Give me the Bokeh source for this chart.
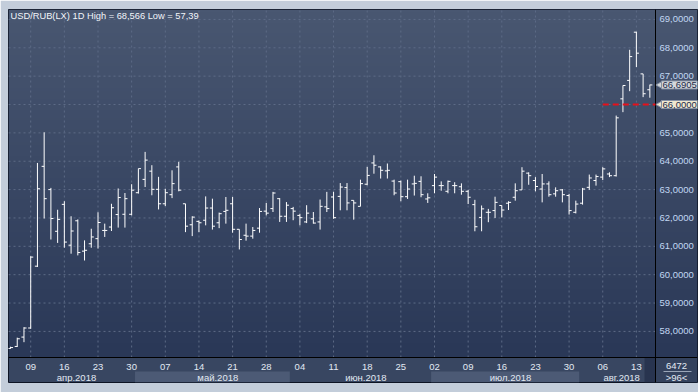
import numpy as np
import pandas as pd
from bokeh.plotting import figure
from bokeh.models import Range1d, Label, ColumnDataSource
from bokeh.core.properties import value
from bokeh.embed import file_html
from bokeh.resources import INLINE

# ---------------- data (USD/RUB daily OHLC, 04.04.2018 - 15.08.2018) ----------------
dates = pd.bdate_range("2018-04-04", "2018-08-15")
opens = [57.40, 57.47, 57.80, 58.12, 60.30, 63.82, 63.00, 61.53, 62.48, 61.04,
         61.90, 60.83, 61.09, 61.27, 61.56, 61.68, 62.12, 62.13, 62.13, 62.89,
         63.36, 63.65, 63.01, 62.50, 62.82, 63.80, 62.50, 61.76, 61.88, 61.92,
         62.35, 61.83, 62.23, 62.50, 61.60, 61.39, 61.36, 61.64, 62.24, 62.33,
         62.68, 62.06, 62.33, 62.09, 61.86, 61.97, 61.86, 62.39, 62.74, 62.76,
         63.07, 62.62, 62.41, 63.19, 63.94, 63.80, 63.66, 63.30, 63.28, 62.75,
         63.20, 63.29, 62.67, 63.14, 63.14, 62.94, 63.14, 63.10, 62.94, 62.47,
         62.02, 62.20, 62.26, 62.44, 62.52, 62.73, 62.99, 63.58, 63.32, 63.02,
         63.20, 62.85, 62.99, 62.79, 62.20, 62.52, 63.08, 63.32, 63.44, 63.55,
         63.49, 66.20, 66.85, 68.55, 67.08, 66.52]
highs = [57.46, 57.78, 58.15, 60.65, 63.94, 65.02, 63.06, 62.29, 62.59, 62.06,
         61.95, 61.21, 61.62, 62.20, 61.80, 62.50, 63.04, 62.88, 63.19, 63.74,
         64.33, 63.86, 63.45, 63.03, 63.68, 63.98, 62.50, 62.06, 61.91, 62.76,
         62.68, 62.19, 62.74, 62.74, 61.60, 61.80, 61.68, 62.35, 62.53, 62.92,
         62.70, 62.56, 62.39, 62.15, 62.45, 62.21, 62.65, 62.92, 62.92, 63.23,
         63.23, 62.62, 63.35, 63.80, 64.21, 63.82, 63.92, 63.35, 63.32, 63.35,
         63.49, 63.47, 62.87, 63.55, 63.29, 63.32, 63.26, 63.22, 62.99, 62.64,
         62.44, 62.32, 62.75, 62.44, 62.59, 63.22, 63.79, 63.61, 63.44, 63.55,
         63.29, 63.08, 63.02, 62.85, 62.61, 63.06, 63.53, 63.53, 63.79, 63.61,
         65.61, 66.67, 67.93, 68.566, 67.08, 66.70]
lows = [57.39, 57.45, 57.62, 58.09, 60.27, 61.98, 61.24, 61.12, 60.95, 60.74,
        60.68, 60.50, 60.95, 60.92, 61.33, 61.54, 61.66, 61.66, 62.09, 62.86,
        63.09, 62.80, 62.30, 62.42, 62.70, 62.94, 61.50, 61.36, 61.50, 61.74,
        61.59, 61.64, 61.80, 61.48, 60.89, 61.20, 61.27, 61.48, 62.09, 62.21,
        61.86, 61.86, 61.92, 61.74, 61.82, 61.80, 61.59, 62.21, 61.97, 62.27,
        62.27, 61.94, 62.41, 63.15, 63.56, 63.39, 63.39, 62.80, 62.59, 62.67,
        62.79, 62.73, 62.53, 62.87, 62.96, 62.87, 62.87, 62.82, 62.49, 61.53,
        61.53, 61.85, 62.00, 62.02, 62.28, 62.61, 62.99, 63.17, 62.94, 62.55,
        62.75, 62.75, 62.55, 62.12, 62.16, 62.47, 62.99, 63.14, 63.34, 63.44,
        63.46, 65.73, 66.47, 67.32, 66.26, 66.24]
closes = [57.43, 57.74, 58.12, 60.62, 63.03, 62.68, 61.98, 61.95, 61.15, 61.54,
          60.78, 60.86, 61.33, 61.84, 61.56, 62.36, 62.72, 62.68, 62.98, 63.74,
          64.04, 63.01, 62.50, 62.89, 63.21, 62.98, 61.71, 62.03, 61.83, 62.35,
          61.71, 62.15, 62.27, 61.60, 61.24, 61.36, 61.56, 62.23, 62.17, 62.88,
          62.06, 62.45, 62.24, 62.01, 62.17, 61.82, 62.41, 62.33, 62.01, 63.09,
          62.53, 62.53, 63.21, 63.50, 63.86, 63.68, 63.68, 62.88, 62.75, 63.02,
          63.22, 62.82, 62.71, 63.44, 63.14, 63.29, 63.14, 62.94, 62.73, 61.69,
          62.32, 62.20, 62.55, 62.28, 62.55, 62.96, 63.65, 63.49, 63.11, 63.20,
          62.82, 62.96, 62.82, 62.26, 62.49, 63.02, 63.41, 63.46, 63.73, 63.49,
          65.53, 66.67, 67.69, 67.81, 66.38, 66.69]
price_ticks = [58, 59, 60, 61, 62, 63, 64, 65, 66, 67, 68, 69]
day_labels = ["09", "16", "23", "30", "07", "14", "21", "28", "04", "11",
              "18", "25", "02", "09", "16", "23", "30", "06", "13"]
month_labels = ["апр.2018", "май.2018", "июн.2018", "июл.2018", "авг.2018"]
level_price = 66.0
last_price = 66.6905
title_text = "USD/RUB(LX) 1D High = 68,566 Low = 57,39"
corner_top = "6472"
corner_bottom = ">96<"

# ---------------- derived ----------------
n = len(opens)
xs = list(range(n))
monday_idx = [i for i, d in enumerate(dates) if d.weekday() == 0]
months = [d.month for d in dates]
month_groups = []
for m in sorted(set(months)):
    ids = [i for i, mm in enumerate(months) if mm == m]
    month_groups.append((ids[0], ids[-1]))

def fmt(v):
    return f"{v:.4f}".replace(".", ",")

# price area (data) and its pixel placement on the 698x392 canvas
X0, X1 = -0.3, n - 0.16
Y0, Y1 = 57.08, 69.35
PL, PR, PT, PB = 8, 655, 9, 357          # price-area box in canvas pixels
FR, FB = 697, 382                        # frame also covers the axis panels
PX = (PR - PL) / (X1 - X0)
PY = (PB - PT) / (Y1 - Y0)
def xpx(px):
    return X0 + (px - PL) / PX
def ypx(py):
    return Y1 - (py - PT) / PY
XE, YB = xpx(FR), ypx(FB)

FONT = "Liberation Sans"
LIGHT = "#c3cdda"
PANEL = "#384661"
BAND = "#4c5a75"
GRID = "#5d6b86"

p = figure(width=698, height=392, output_backend="svg", toolbar_location=None,
           x_range=Range1d(X0, XE), y_range=Range1d(YB, Y1),
           min_border_left=PL, min_border_top=PT, min_border_right=698 - FR,
           min_border_bottom=392 - FB,
           border_fill_color=LIGHT, outline_line_color="#0d1424",
           background_fill_color=PANEL, x_axis_location=None, y_axis_location=None)
p.xgrid.visible = False
p.ygrid.visible = False

# gradient background for price area + right scale panel
rows = 128
img = np.empty((rows, 1), dtype=np.uint32)
view = img.view(dtype=np.uint8).reshape((rows, 1, 4))
bot = np.array([42, 56, 87]); top = np.array([73, 87, 113])
for r in range(rows):
    t = r / (rows - 1)
    view[r, 0, :3] = (bot + (top - bot) * t).astype(np.uint8)
    view[r, 0, 3] = 255
p.image_rgba(image=[img], x=X0, y=Y0, dw=XE - X0, dh=Y1 - Y0, level="image")

# bottom date panel: month bands, dark tail, corner box
for k, (a, b) in enumerate(month_groups):
    if k % 2 == 1:
        p.quad(left=a - 0.5, right=b + 0.5, bottom=YB, top=ypx(371),
               fill_color=BAND, line_color=None)
p.quad(left=xpx(644), right=X1, bottom=YB, top=Y0, fill_color="#28344f", line_color=None)
p.quad(left=X1, right=XE, bottom=YB, top=Y0, fill_color="#34425d", line_color=None)

# grid lines (dashed) inside the price area
p.segment(x0=monday_idx, y0=[Y0] * len(monday_idx), x1=monday_idx, y1=[Y1] * len(monday_idx),
          line_color=GRID, line_dash="2 3", line_width=1)
p.segment(x0=[X0] * len(price_ticks), y0=price_ticks, x1=[X1] * len(price_ticks), y1=price_ticks,
          line_color=GRID, line_dash="2 3", line_width=1)

# separators
p.segment(x0=[X1], y0=[YB], x1=[X1], y1=[Y1], line_color="#000000", line_width=1)
p.segment(x0=[X0], y0=[Y0], x1=[XE], y1=[Y0], line_color="#000000", line_width=1)

# OHLC bars
tick = 0.38
src = ColumnDataSource(dict(x=xs, o=opens, h=highs, l=lows, c=closes,
                            xl=[i - tick for i in xs], xr=[i + tick for i in xs]))
p.segment(x0="x", y0="l", x1="x", y1="h", source=src, line_color="white", line_width=1)
p.segment(x0="xl", y0="o", x1="x", y1="o", source=src, line_color="white", line_width=1)
p.segment(x0="x", y0="c", x1="xr", y1="c", source=src, line_color="white", line_width=1)

# red level line
lvl_start = monday_idx[-2]
p.segment(x0=[lvl_start], y0=[level_price], x1=[X1], y1=[level_price],
          line_color="#e8101a", line_width=2, line_dash="6 4")

# price scale labels (right)
p.text(x=[X1] * len(price_ticks), y=price_ticks, text=[fmt(v) for v in price_ticks],
       x_offset=4, text_font=value(FONT), text_font_size="9.5px", text_color="#c2d7f3",
       text_baseline="middle", text_align="left")

# date scale labels (bottom)
p.text(x=monday_idx, y=[ypx(366)] * len(monday_idx), text=day_labels,
       text_font=value(FONT), text_font_size="9.5px", text_color="#e2e9f3",
       text_baseline="middle", text_align="center")
month_centers = [(a + b) / 2 + 0.8 for a, b in month_groups]
p.text(x=month_centers, y=[ypx(377)] * len(month_centers), text=month_labels,
       text_font=value(FONT), text_font_size="9.5px", text_color="#e2e9f3",
       text_baseline="middle", text_align="center")

# corner box texts
xc = (X1 + XE) / 2
p.text(x=[xc, xc], y=[ypx(365), ypx(377)], text=[corner_top, corner_bottom],
       text_font=value(FONT), text_font_size="9.5px", text_color="#e2e9f3",
       text_baseline="middle", text_align="center")
p.segment(x0=[xpx(663)], y0=[ypx(371)], x1=[xpx(691)], y1=[ypx(371)],
          line_color="#9aa6b8", line_width=1)

# price callouts (last price, level)
p.scatter(x=[xpx(659.5)] * 2, y=[last_price, level_price], marker="triangle",
          angle=np.pi / 2, size=7, fill_color=["#d4d7db", "#efe8d0"],
          line_color="#8893a5", line_width=1)
for val, bg in [(last_price, "#d4d7db"), (level_price, "#efe8d0")]:
    p.add_layout(Label(x=X1, y=val, x_offset=6, text=fmt(val),
                       text_font=FONT, text_font_size="9.5px", text_color="#1c2a48",
                       text_baseline="middle", text_align="left",
                       background_fill_color=bg, border_line_color="#8893a5", padding=1))

# title inside frame
p.add_layout(Label(x=X0, y=Y1, x_offset=2, y_offset=-1, text=title_text,
                   text_font=FONT, text_font_size="9.3px", text_color="#f2f5fa",
                   text_baseline="top", text_align="left"))

html = file_html(p, INLINE)
open("out.html", "w").write(html)
